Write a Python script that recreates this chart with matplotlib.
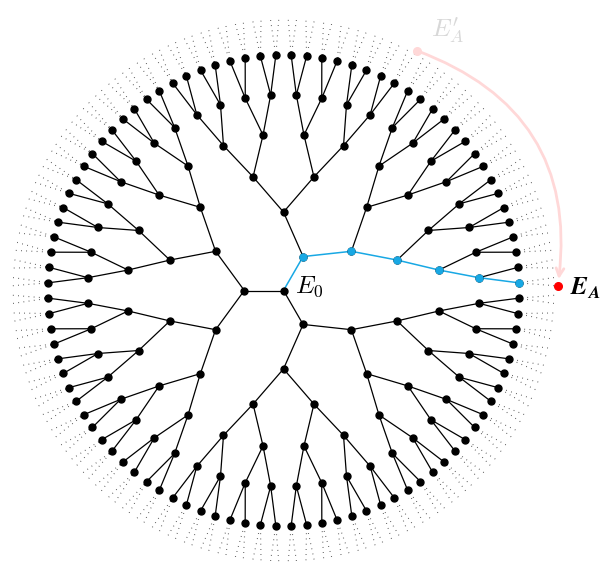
import numpy as np
import matplotlib.pyplot as plt
from matplotlib.patches import FancyArrowPatch

plt.rcParams['mathtext.fontset'] = 'cm'

# --- Tree parameters ---
coordination = 3          # neighbours of every inner node
n_generations = 6         # solid shells
n_dotted = 1              # extra shell drawn with dotted edges
first_angle = 60.0        # direction (deg) of the first branch off the root

# branch choice (0 = lower half of a sector, 1 = upper half) along the highlighted path
path_choice = [0, 0, 0, 0, 0, 0, 0]   # root branch, then gen 2..7
ghost_rotation = 60.0     # E'_A is E_A turned by this angle (deg)

node_color = 'black'
path_color = '#18a8e4'
target_color = '#ff0000'
ghost_color = '#ffd8d8'
label_ghost = '#d8d8d8'


def build_tree():
    # returns list of (gen, angle, parent_idx, sector)
    nodes = [(0, 0.0, None, (0.0, 360.0))]
    width = 360.0 / coordination
    level = []
    for k in range(coordination):
        a0 = first_angle - width / 2 + k * width
        nodes.append((1, a0 + width / 2, 0, (a0, a0 + width)))
        level.append(len(nodes) - 1)
    for g in range(2, n_generations + n_dotted + 1):
        nxt = []
        for p in level:
            a0, a1 = nodes[p][3]
            half = (a1 - a0) / 2
            for j in range(coordination - 1):
                s = (a0 + j * half, a0 + (j + 1) * half)
                nodes.append((g, (s[0] + s[1]) / 2, p, s))
                nxt.append(len(nodes) - 1)
        level = nxt
    return nodes


nodes = build_tree()
gens = np.array([n[0] for n in nodes])
deg = np.array([n[1] for n in nodes])
angles = np.radians(deg)
xs = gens * np.cos(angles)
ys = gens * np.sin(angles)

# walk the chosen path from the root
idx = 1 + path_choice[0]
path = [0, idx]
for c in path_choice[1:]:
    kids = [i for i, n in enumerate(nodes) if n[2] == idx]
    idx = kids[c]
    path.append(idx)

end = path[-1]
outer = np.where(gens == gens[end])[0]
start = outer[np.argmin(np.abs(deg[outer] - (deg[end] + ghost_rotation)))]

fig = plt.figure(figsize=(6.0, 5.65), dpi=100)
ax = fig.add_axes([0, 0, 1, 1])
ax.set_xlim(-283.5 / 39.2, (600 - 283.5) / 39.2)
ax.set_ylim((290.5 - 565) / 39.2, 290.5 / 39.2)
ax.set_aspect('equal')
ax.axis('off')

on_path = set(zip(path[:-1], path[1:]))
for i, n in enumerate(nodes):
    p = n[2]
    if p is None:
        continue
    if n[0] > n_generations:
        ax.plot([xs[p], xs[i]], [ys[p], ys[i]], color='#444444', lw=0.8,
                linestyle=(1.5, (0.7, 4.0)), zorder=1)
    elif (p, i) in on_path:
        ax.plot([xs[p], xs[i]], [ys[p], ys[i]], color=path_color, lw=1.1, zorder=2)
    else:
        ax.plot([xs[p], xs[i]], [ys[p], ys[i]], color=node_color, lw=0.9, zorder=1)

solid = gens <= n_generations
ax.plot(xs[solid], ys[solid], 'o', color=node_color, ms=5, zorder=3)
blue = path[1:-1]
ax.plot(xs[blue], ys[blue], 'o', color=path_color, ms=5, zorder=4)

ax.plot(xs[end], ys[end], 'o', color=target_color, ms=5.5, zorder=5)
ax.plot(xs[start], ys[start], 'o', color=ghost_color, ms=5.5, zorder=5)

arc = FancyArrowPatch((xs[start], ys[start]), (xs[end], ys[end]),
                      connectionstyle='arc3,rad=-0.4', arrowstyle='->',
                      mutation_scale=14, color=ghost_color, lw=2,
                      shrinkA=0, shrinkB=5, zorder=4)
ax.add_patch(arc)

ax.text(xs[0] + 0.3, ys[0] + 0.1, r'$E_0$', fontsize=18, va='center', ha='left')
ax.text(xs[end] + 0.3, ys[end] - 0.05, r'$\mathbfit{E}_{\mathbfit{A}}$',
        fontsize=18, va='center', ha='left')
ax.text(xs[start] + 0.35, ys[start] + 0.5, r"$E_A^{\prime}$", fontsize=18,
        color=label_ghost, va='center', ha='left')

fig.savefig('out.png', dpi=100)
